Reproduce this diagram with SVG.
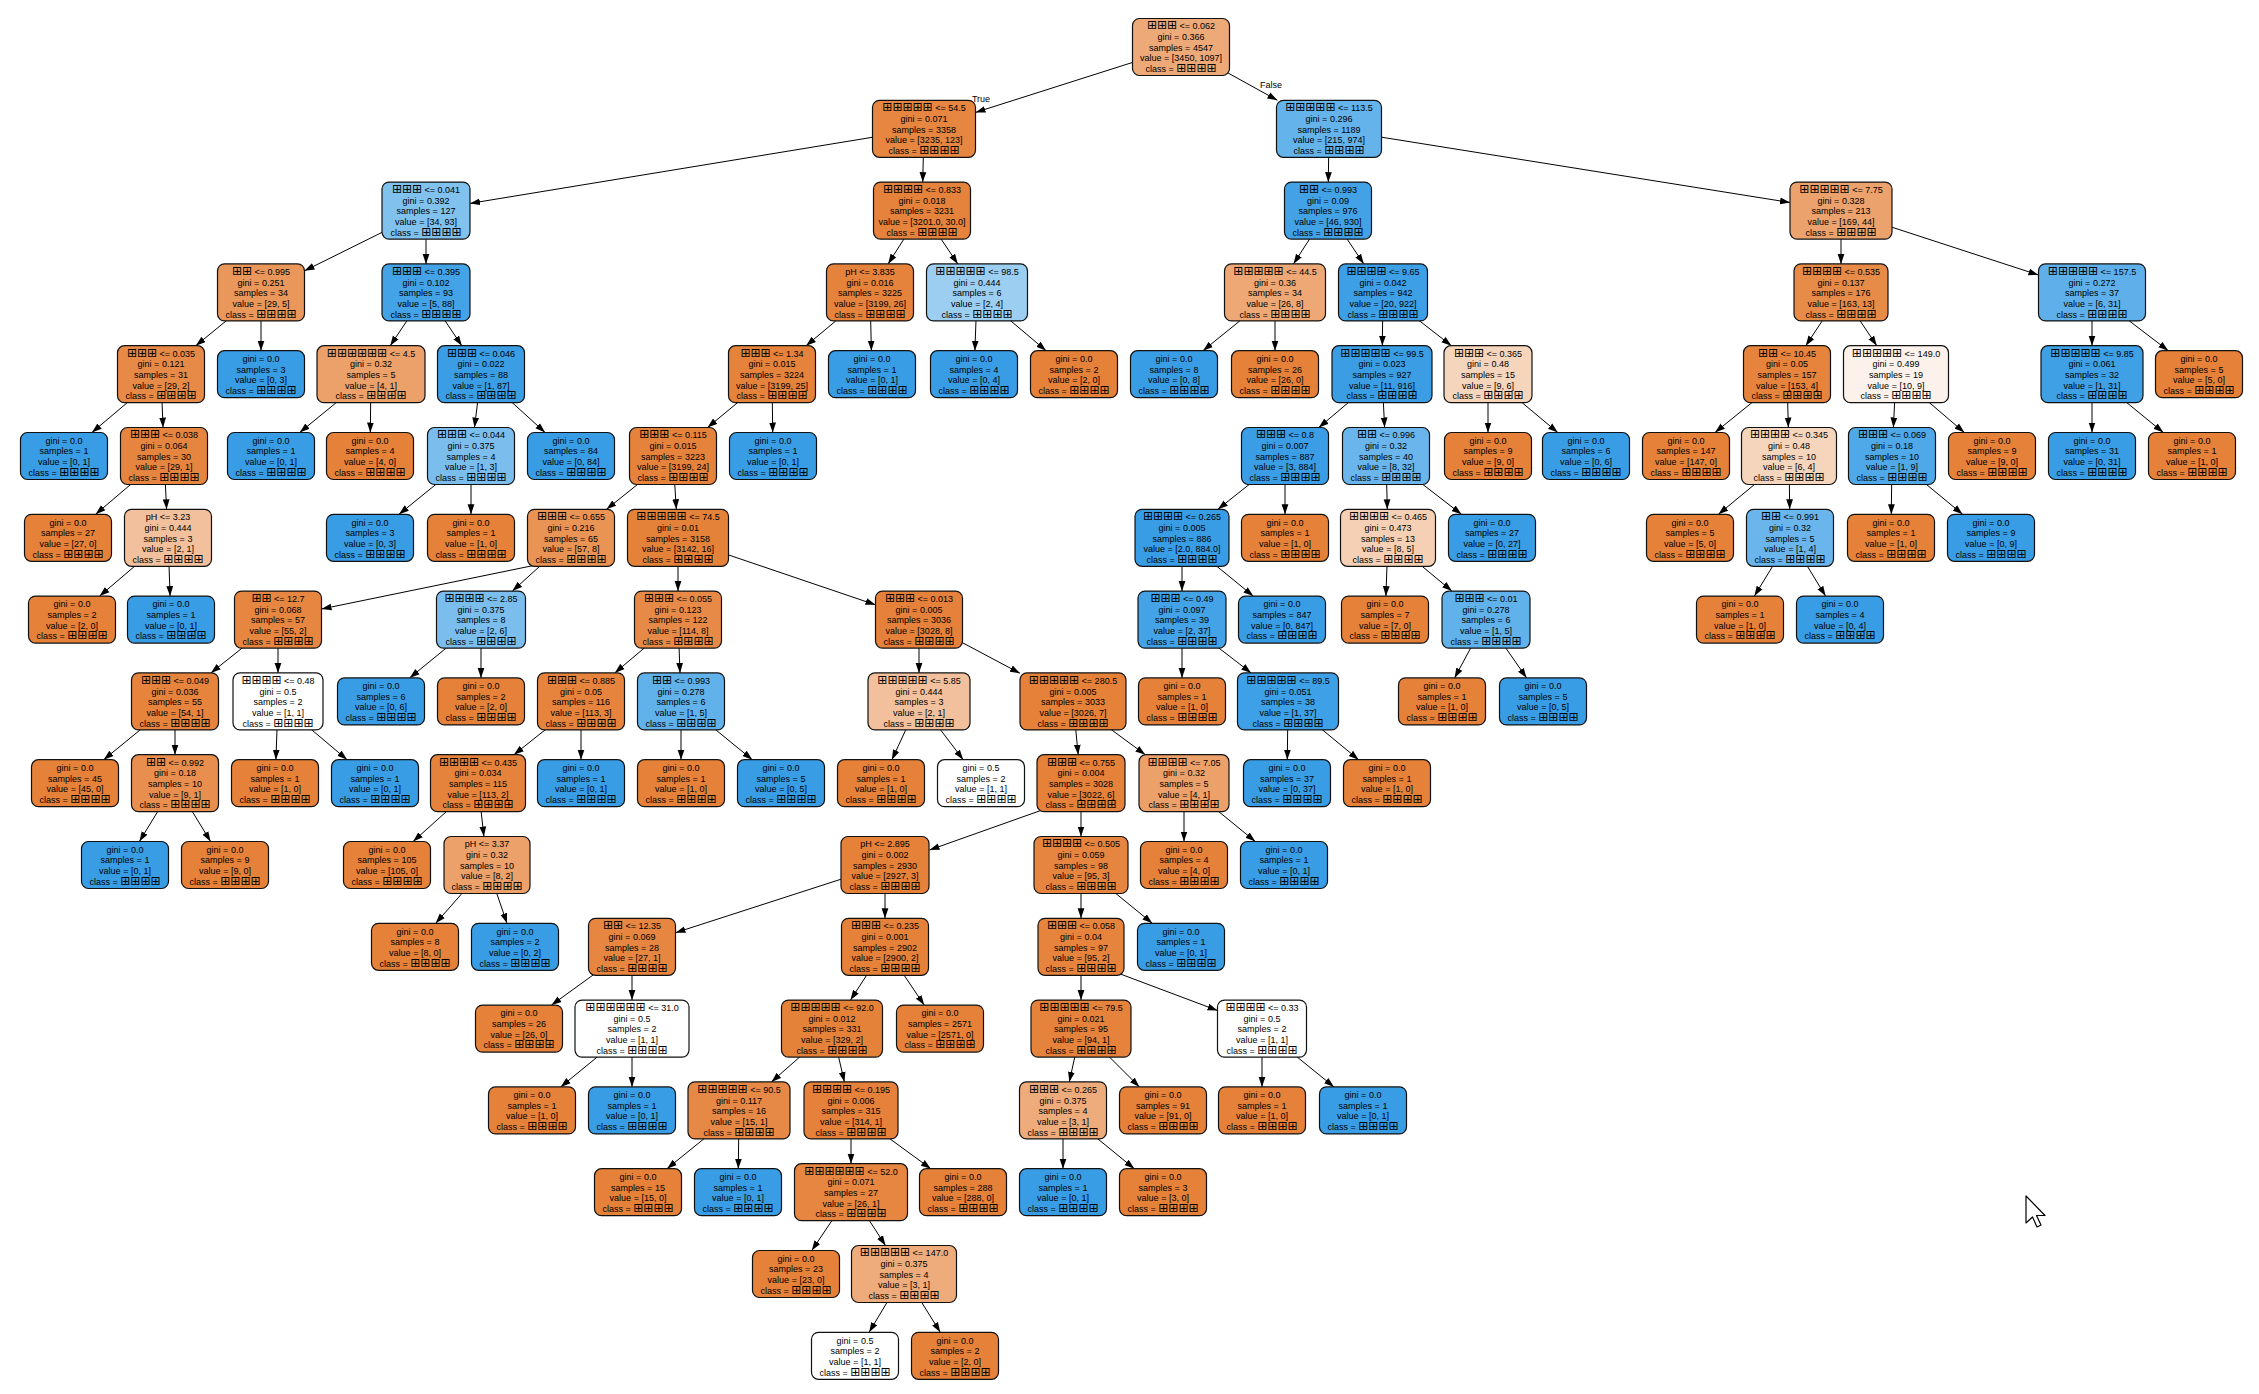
<svg xmlns="http://www.w3.org/2000/svg" width="2259" height="1394" viewBox="0 0 2259 1394">
<style>
text{font-family:"Liberation Sans",Arial,Helvetica,sans-serif;font-size:9px;fill:#000;text-anchor:middle}
.t{font-family:"DejaVu Sans",sans-serif;font-size:12px}
.nd rect{stroke:#111;stroke-width:1.2}
#edges path{fill:none;stroke:#000;stroke-width:1;marker-end:url(#ah)}
.o{fill:#e58139}.b{fill:#399de5}.w{fill:#ffffff}
</style>
<defs>
<marker id="ah" markerUnits="userSpaceOnUse" markerWidth="10" markerHeight="8" viewBox="0 0 10 8" refX="10" refY="4" orient="auto"><path d="M0,0.6 L10,4 L0,7.4 z" fill="#000"/></marker>
</defs>
<rect width="2259" height="1394" fill="#fff"/>
<g id="edges">
<path d="M1181,47 L975.5,112.4"/>
<path d="M1181,47 L1277.4,100.3"/>
<path d="M924,128.8 L470,203.4"/>
<path d="M924,128.8 L922.7,182.1"/>
<path d="M426,210.6 L304.5,270.8"/>
<path d="M426,210.6 L426,263.9"/>
<path d="M261,292.4 L195.8,345.7"/>
<path d="M261,292.4 L261,350.7"/>
<path d="M161,374.2 L91.9,432.5"/>
<path d="M161,374.2 L163,427.5"/>
<path d="M164,456 L95.6,514.3"/>
<path d="M164,456 L166.6,509.3"/>
<path d="M168,537.8 L99.6,596.1"/>
<path d="M168,537.8 L170.1,596.1"/>
<path d="M426,292.4 L390.2,345.7"/>
<path d="M426,292.4 L461.8,345.7"/>
<path d="M371,374.2 L299.7,432.5"/>
<path d="M371,374.2 L370.3,432.5"/>
<path d="M481,374.2 L474.5,427.5"/>
<path d="M481,374.2 L545.1,432.5"/>
<path d="M471,456 L399,514.3"/>
<path d="M471,456 L471,514.3"/>
<path d="M922,210.6 L888.1,263.9"/>
<path d="M922,210.6 L957.8,263.9"/>
<path d="M870,292.4 L806.1,345.7"/>
<path d="M870,292.4 L871.4,350.7"/>
<path d="M772,374.2 L707.5,427.5"/>
<path d="M772,374.2 L772.7,432.5"/>
<path d="M673,456 L606.5,509.3"/>
<path d="M673,456 L676.3,509.3"/>
<path d="M536,565 L321.5,609"/>
<path d="M571,537.8 L512.4,591.1"/>
<path d="M278,619.6 L210.9,672.9"/>
<path d="M278,619.6 L278,672.9"/>
<path d="M175,701.4 L103.7,759.7"/>
<path d="M175,701.4 L175,754.7"/>
<path d="M175,783.2 L139.4,841.5"/>
<path d="M175,783.2 L210.6,841.5"/>
<path d="M278,701.4 L275.9,759.7"/>
<path d="M278,701.4 L347.1,759.7"/>
<path d="M481,619.6 L409.7,677.9"/>
<path d="M481,619.6 L481,677.9"/>
<path d="M678,537.8 L678,591.1"/>
<path d="M678,537.8 L875.5,604.8"/>
<path d="M678,619.6 L614.8,672.9"/>
<path d="M678,619.6 L680,672.9"/>
<path d="M581,701.4 L513.9,754.7"/>
<path d="M581,701.4 L581,759.7"/>
<path d="M478,783.2 L413.1,841.5"/>
<path d="M478,783.2 L483.9,836.5"/>
<path d="M487,865 L435.7,923.3"/>
<path d="M487,865 L507,923.3"/>
<path d="M681,701.4 L681,759.7"/>
<path d="M681,701.4 L752.3,759.7"/>
<path d="M919,619.6 L919,672.9"/>
<path d="M919,619.6 L1020,673.3"/>
<path d="M919,701.4 L891.9,759.7"/>
<path d="M919,701.4 L963.2,759.7"/>
<path d="M1073,701.4 L1078.2,754.7"/>
<path d="M1073,701.4 L1145.3,754.7"/>
<path d="M1045,809 L929.5,850"/>
<path d="M1081,783.2 L1081,836.5"/>
<path d="M885,865 L675.5,932.7"/>
<path d="M885,865 L885,918.3"/>
<path d="M632,946.8 L551.5,1005.1"/>
<path d="M632,946.8 L632,1000.1"/>
<path d="M632,1028.6 L560.7,1086.9"/>
<path d="M632,1028.6 L632,1086.9"/>
<path d="M885,946.8 L850.5,1000.1"/>
<path d="M885,946.8 L924.2,1005.1"/>
<path d="M832,1028.6 L771.4,1081.9"/>
<path d="M832,1028.6 L844.4,1081.9"/>
<path d="M739,1110.4 L667,1168.7"/>
<path d="M739,1110.4 L738.3,1168.7"/>
<path d="M851,1110.4 L851,1163.7"/>
<path d="M851,1110.4 L930.8,1168.7"/>
<path d="M851,1192.2 L811.8,1250.5"/>
<path d="M851,1192.2 L885.5,1245.5"/>
<path d="M904,1274 L869.1,1332.3"/>
<path d="M904,1274 L940.3,1332.3"/>
<path d="M1081,865 L1081,918.3"/>
<path d="M1081,865 L1152.3,923.3"/>
<path d="M1081,946.8 L1081,1000.1"/>
<path d="M1115,972 L1217.5,1010.5"/>
<path d="M1081,1028.6 L1069.3,1081.9"/>
<path d="M1081,1028.6 L1139.4,1086.9"/>
<path d="M1063,1110.4 L1063,1168.7"/>
<path d="M1063,1110.4 L1134.3,1168.7"/>
<path d="M1262,1028.6 L1262,1086.9"/>
<path d="M1262,1028.6 L1334,1086.9"/>
<path d="M1184,783.2 L1184,841.5"/>
<path d="M1184,783.2 L1255.3,841.5"/>
<path d="M977,292.4 L974.9,350.7"/>
<path d="M977,292.4 L1046.1,350.7"/>
<path d="M1329,128.8 L1328.3,182.1"/>
<path d="M1329,128.8 L1790,202.5"/>
<path d="M1328,210.6 L1293.5,263.9"/>
<path d="M1328,210.6 L1363.8,263.9"/>
<path d="M1275,292.4 L1203,350.7"/>
<path d="M1275,292.4 L1275,350.7"/>
<path d="M1383,292.4 L1382.3,345.7"/>
<path d="M1383,292.4 L1451.4,345.7"/>
<path d="M1382,374.2 L1318.8,427.5"/>
<path d="M1382,374.2 L1384.6,427.5"/>
<path d="M1285,456 L1217.9,509.3"/>
<path d="M1285,456 L1285,514.3"/>
<path d="M1182,537.8 L1182,591.1"/>
<path d="M1182,537.8 L1253.3,596.1"/>
<path d="M1182,619.6 L1182,677.9"/>
<path d="M1182,619.6 L1251.1,672.9"/>
<path d="M1288,701.4 L1287.3,759.7"/>
<path d="M1288,701.4 L1358.6,759.7"/>
<path d="M1386,456 L1387.3,509.3"/>
<path d="M1386,456 L1461.5,514.3"/>
<path d="M1388,537.8 L1385.9,596.1"/>
<path d="M1388,537.8 L1451.9,591.1"/>
<path d="M1486,619.6 L1454.6,677.9"/>
<path d="M1486,619.6 L1526.6,677.9"/>
<path d="M1488,374.2 L1488,432.5"/>
<path d="M1488,374.2 L1557.8,432.5"/>
<path d="M1841,210.6 L1841,263.9"/>
<path d="M1841,210.6 L2038.5,275"/>
<path d="M1841,292.4 L1805.8,345.7"/>
<path d="M1841,292.4 L1876.8,345.7"/>
<path d="M1787,374.2 L1715,432.5"/>
<path d="M1787,374.2 L1788.3,427.5"/>
<path d="M1789,456 L1718.4,514.3"/>
<path d="M1789,456 L1789.7,509.3"/>
<path d="M1790,537.8 L1754.4,596.1"/>
<path d="M1790,537.8 L1825.6,596.1"/>
<path d="M1896,374.2 L1893.4,427.5"/>
<path d="M1896,374.2 L1964.4,432.5"/>
<path d="M1892,456 L1891.3,514.3"/>
<path d="M1892,456 L1962.6,514.3"/>
<path d="M2092,292.4 L2092,345.7"/>
<path d="M2092,292.4 L2168.3,350.7"/>
<path d="M2092,374.2 L2092,432.5"/>
<path d="M2092,374.2 L2163.3,432.5"/>
<text x="981" y="102">True</text>
<text x="1271" y="88">False</text>
</g>
<g id="nodes">
<g id="n0" class="nd" transform="translate(1181,47)"><rect x="-48.5" y="-28.5" width="97" height="57" rx="7" fill="#eda978"/><text y="-17.6"><tspan class="t">⊞⊞⊞</tspan> &lt;= 0.062<tspan x="0" dy="10.7">gini = 0.366</tspan><tspan x="0" dy="10.7">samples = 4547</tspan><tspan x="0" dy="10.7">value = [3450, 1097]</tspan><tspan x="0" dy="10.7">class = <tspan class="t">⊞⊞⊞⊞</tspan></tspan></text></g>
<g id="n1" class="nd" transform="translate(924,128.8)"><rect x="-51.5" y="-28.5" width="103" height="57" rx="7" fill="#e68641"/><text y="-17.6"><tspan class="t">⊞⊞⊞⊞⊞</tspan> &lt;= 54.5<tspan x="0" dy="10.7">gini = 0.071</tspan><tspan x="0" dy="10.7">samples = 3358</tspan><tspan x="0" dy="10.7">value = [3235, 123]</tspan><tspan x="0" dy="10.7">class = <tspan class="t">⊞⊞⊞⊞</tspan></tspan></text></g>
<g id="n94" class="nd" transform="translate(1329,128.8)"><rect x="-52.5" y="-28.5" width="105" height="57" rx="7" fill="#65b3eb"/><text y="-17.6"><tspan class="t">⊞⊞⊞⊞⊞</tspan> &lt;= 113.5<tspan x="0" dy="10.7">gini = 0.296</tspan><tspan x="0" dy="10.7">samples = 1189</tspan><tspan x="0" dy="10.7">value = [215, 974]</tspan><tspan x="0" dy="10.7">class = <tspan class="t">⊞⊞⊞⊞</tspan></tspan></text></g>
<g id="n2" class="nd" transform="translate(426,210.6)"><rect x="-44" y="-28.5" width="88" height="57" rx="7" fill="#81c1ee"/><text y="-17.6"><tspan class="t">⊞⊞⊞</tspan> &lt;= 0.041<tspan x="0" dy="10.7">gini = 0.392</tspan><tspan x="0" dy="10.7">samples = 127</tspan><tspan x="0" dy="10.7">value = [34, 93]</tspan><tspan x="0" dy="10.7">class = <tspan class="t">⊞⊞⊞⊞</tspan></tspan></text></g>
<g id="n21" class="nd" transform="translate(922,210.6)"><rect x="-48.5" y="-28.5" width="97" height="57" rx="7" fill="#e5823b"/><text y="-17.6"><tspan class="t">⊞⊞⊞⊞</tspan> &lt;= 0.833<tspan x="0" dy="10.7">gini = 0.018</tspan><tspan x="0" dy="10.7">samples = 3231</tspan><tspan x="0" dy="10.7">value = [3201.0, 30.0]</tspan><tspan x="0" dy="10.7">class = <tspan class="t">⊞⊞⊞⊞</tspan></tspan></text></g>
<g id="n95" class="nd" transform="translate(1328,210.6)"><rect x="-43.5" y="-28.5" width="87" height="57" rx="7" fill="#43a2e6"/><text y="-17.6"><tspan class="t">⊞⊞</tspan> &lt;= 0.993<tspan x="0" dy="10.7">gini = 0.09</tspan><tspan x="0" dy="10.7">samples = 976</tspan><tspan x="0" dy="10.7">value = [46, 930]</tspan><tspan x="0" dy="10.7">class = <tspan class="t">⊞⊞⊞⊞</tspan></tspan></text></g>
<g id="n120" class="nd" transform="translate(1841,210.6)"><rect x="-51" y="-28.5" width="102" height="57" rx="7" fill="#eca26c"/><text y="-17.6"><tspan class="t">⊞⊞⊞⊞⊞</tspan> &lt;= 7.75<tspan x="0" dy="10.7">gini = 0.328</tspan><tspan x="0" dy="10.7">samples = 213</tspan><tspan x="0" dy="10.7">value = [169, 44]</tspan><tspan x="0" dy="10.7">class = <tspan class="t">⊞⊞⊞⊞</tspan></tspan></text></g>
<g id="n3" class="nd" transform="translate(261,292.4)"><rect x="-43.5" y="-28.5" width="87" height="57" rx="7" fill="#e9975b"/><text y="-17.6"><tspan class="t">⊞⊞</tspan> &lt;= 0.995<tspan x="0" dy="10.7">gini = 0.251</tspan><tspan x="0" dy="10.7">samples = 34</tspan><tspan x="0" dy="10.7">value = [29, 5]</tspan><tspan x="0" dy="10.7">class = <tspan class="t">⊞⊞⊞⊞</tspan></tspan></text></g>
<g id="n12" class="nd" transform="translate(426,292.4)"><rect x="-44" y="-28.5" width="88" height="57" rx="7" fill="#44a2e6"/><text y="-17.6"><tspan class="t">⊞⊞⊞</tspan> &lt;= 0.395<tspan x="0" dy="10.7">gini = 0.102</tspan><tspan x="0" dy="10.7">samples = 93</tspan><tspan x="0" dy="10.7">value = [5, 88]</tspan><tspan x="0" dy="10.7">class = <tspan class="t">⊞⊞⊞⊞</tspan></tspan></text></g>
<g id="n22" class="nd" transform="translate(870,292.4)"><rect x="-43.5" y="-28.5" width="87" height="57" rx="7" fill="#e5823b"/><text y="-17.6">pH &lt;= 3.835<tspan x="0" dy="10.7">gini = 0.016</tspan><tspan x="0" dy="10.7">samples = 3225</tspan><tspan x="0" dy="10.7">value = [3199, 26]</tspan><tspan x="0" dy="10.7">class = <tspan class="t">⊞⊞⊞⊞</tspan></tspan></text></g>
<g id="n91" class="nd" transform="translate(977,292.4)"><rect x="-50.5" y="-28.5" width="101" height="57" rx="7" fill="#9ccef2"/><text y="-17.6"><tspan class="t">⊞⊞⊞⊞⊞</tspan> &lt;= 98.5<tspan x="0" dy="10.7">gini = 0.444</tspan><tspan x="0" dy="10.7">samples = 6</tspan><tspan x="0" dy="10.7">value = [2, 4]</tspan><tspan x="0" dy="10.7">class = <tspan class="t">⊞⊞⊞⊞</tspan></tspan></text></g>
<g id="n96" class="nd" transform="translate(1275,292.4)"><rect x="-50.5" y="-28.5" width="101" height="57" rx="7" fill="#eda876"/><text y="-17.6"><tspan class="t">⊞⊞⊞⊞⊞</tspan> &lt;= 44.5<tspan x="0" dy="10.7">gini = 0.36</tspan><tspan x="0" dy="10.7">samples = 34</tspan><tspan x="0" dy="10.7">value = [26, 8]</tspan><tspan x="0" dy="10.7">class = <tspan class="t">⊞⊞⊞⊞</tspan></tspan></text></g>
<g id="n99" class="nd" transform="translate(1383,292.4)"><rect x="-44.5" y="-28.5" width="89" height="57" rx="7" fill="#3d9fe6"/><text y="-17.6"><tspan class="t">⊞⊞⊞⊞</tspan> &lt;= 9.65<tspan x="0" dy="10.7">gini = 0.042</tspan><tspan x="0" dy="10.7">samples = 942</tspan><tspan x="0" dy="10.7">value = [20, 922]</tspan><tspan x="0" dy="10.7">class = <tspan class="t">⊞⊞⊞⊞</tspan></tspan></text></g>
<g id="n121" class="nd" transform="translate(1841,292.4)"><rect x="-47" y="-28.5" width="94" height="57" rx="7" fill="#e78b49"/><text y="-17.6"><tspan class="t">⊞⊞⊞⊞</tspan> &lt;= 0.535<tspan x="0" dy="10.7">gini = 0.137</tspan><tspan x="0" dy="10.7">samples = 176</tspan><tspan x="0" dy="10.7">value = [163, 13]</tspan><tspan x="0" dy="10.7">class = <tspan class="t">⊞⊞⊞⊞</tspan></tspan></text></g>
<g id="n134" class="nd" transform="translate(2092,292.4)"><rect x="-53.5" y="-28.5" width="107" height="57" rx="7" fill="#5fb0ea"/><text y="-17.6"><tspan class="t">⊞⊞⊞⊞⊞</tspan> &lt;= 157.5<tspan x="0" dy="10.7">gini = 0.272</tspan><tspan x="0" dy="10.7">samples = 37</tspan><tspan x="0" dy="10.7">value = [6, 31]</tspan><tspan x="0" dy="10.7">class = <tspan class="t">⊞⊞⊞⊞</tspan></tspan></text></g>
<g id="n4" class="nd" transform="translate(161,374.2)"><rect x="-43.5" y="-28.5" width="87" height="57" rx="7" fill="#e78a47"/><text y="-17.6"><tspan class="t">⊞⊞⊞</tspan> &lt;= 0.035<tspan x="0" dy="10.7">gini = 0.121</tspan><tspan x="0" dy="10.7">samples = 31</tspan><tspan x="0" dy="10.7">value = [29, 2]</tspan><tspan x="0" dy="10.7">class = <tspan class="t">⊞⊞⊞⊞</tspan></tspan></text></g>
<g id="n11" class="nd" transform="translate(261,374.2)"><rect class="b" x="-43.5" y="-23.5" width="87" height="47" rx="7"/><text y="-12.3">gini = 0.0<tspan x="0" dy="10.7">samples = 3</tspan><tspan x="0" dy="10.7">value = [0, 3]</tspan><tspan x="0" dy="10.7">class = <tspan class="t">⊞⊞⊞⊞</tspan></tspan></text></g>
<g id="n13" class="nd" transform="translate(371,374.2)"><rect x="-54" y="-28.5" width="108" height="57" rx="7" fill="#eca06a"/><text y="-17.6"><tspan class="t">⊞⊞⊞⊞⊞⊞</tspan> &lt;= 4.5<tspan x="0" dy="10.7">gini = 0.32</tspan><tspan x="0" dy="10.7">samples = 5</tspan><tspan x="0" dy="10.7">value = [4, 1]</tspan><tspan x="0" dy="10.7">class = <tspan class="t">⊞⊞⊞⊞</tspan></tspan></text></g>
<g id="n16" class="nd" transform="translate(481,374.2)"><rect x="-43.5" y="-28.5" width="87" height="57" rx="7" fill="#3b9ee5"/><text y="-17.6"><tspan class="t">⊞⊞⊞</tspan> &lt;= 0.046<tspan x="0" dy="10.7">gini = 0.022</tspan><tspan x="0" dy="10.7">samples = 88</tspan><tspan x="0" dy="10.7">value = [1, 87]</tspan><tspan x="0" dy="10.7">class = <tspan class="t">⊞⊞⊞⊞</tspan></tspan></text></g>
<g id="n23" class="nd" transform="translate(772,374.2)"><rect x="-43.5" y="-28.5" width="87" height="57" rx="7" fill="#e5823b"/><text y="-17.6"><tspan class="t">⊞⊞⊞</tspan> &lt;= 1.34<tspan x="0" dy="10.7">gini = 0.015</tspan><tspan x="0" dy="10.7">samples = 3224</tspan><tspan x="0" dy="10.7">value = [3199, 25]</tspan><tspan x="0" dy="10.7">class = <tspan class="t">⊞⊞⊞⊞</tspan></tspan></text></g>
<g id="n90" class="nd" transform="translate(872,374.2)"><rect class="b" x="-43.5" y="-23.5" width="87" height="47" rx="7"/><text y="-12.3">gini = 0.0<tspan x="0" dy="10.7">samples = 1</tspan><tspan x="0" dy="10.7">value = [0, 1]</tspan><tspan x="0" dy="10.7">class = <tspan class="t">⊞⊞⊞⊞</tspan></tspan></text></g>
<g id="n92" class="nd" transform="translate(974,374.2)"><rect class="b" x="-43.5" y="-23.5" width="87" height="47" rx="7"/><text y="-12.3">gini = 0.0<tspan x="0" dy="10.7">samples = 4</tspan><tspan x="0" dy="10.7">value = [0, 4]</tspan><tspan x="0" dy="10.7">class = <tspan class="t">⊞⊞⊞⊞</tspan></tspan></text></g>
<g id="n93" class="nd" transform="translate(1074,374.2)"><rect class="o" x="-43.5" y="-23.5" width="87" height="47" rx="7"/><text y="-12.3">gini = 0.0<tspan x="0" dy="10.7">samples = 2</tspan><tspan x="0" dy="10.7">value = [2, 0]</tspan><tspan x="0" dy="10.7">class = <tspan class="t">⊞⊞⊞⊞</tspan></tspan></text></g>
<g id="n97" class="nd" transform="translate(1174,374.2)"><rect class="b" x="-43.5" y="-23.5" width="87" height="47" rx="7"/><text y="-12.3">gini = 0.0<tspan x="0" dy="10.7">samples = 8</tspan><tspan x="0" dy="10.7">value = [0, 8]</tspan><tspan x="0" dy="10.7">class = <tspan class="t">⊞⊞⊞⊞</tspan></tspan></text></g>
<g id="n98" class="nd" transform="translate(1275,374.2)"><rect class="o" x="-43.5" y="-23.5" width="87" height="47" rx="7"/><text y="-12.3">gini = 0.0<tspan x="0" dy="10.7">samples = 26</tspan><tspan x="0" dy="10.7">value = [26, 0]</tspan><tspan x="0" dy="10.7">class = <tspan class="t">⊞⊞⊞⊞</tspan></tspan></text></g>
<g id="n100" class="nd" transform="translate(1382,374.2)"><rect x="-50" y="-28.5" width="100" height="57" rx="7" fill="#3b9ee5"/><text y="-17.6"><tspan class="t">⊞⊞⊞⊞⊞</tspan> &lt;= 99.5<tspan x="0" dy="10.7">gini = 0.023</tspan><tspan x="0" dy="10.7">samples = 927</tspan><tspan x="0" dy="10.7">value = [11, 916]</tspan><tspan x="0" dy="10.7">class = <tspan class="t">⊞⊞⊞⊞</tspan></tspan></text></g>
<g id="n117" class="nd" transform="translate(1488,374.2)"><rect x="-44" y="-28.5" width="88" height="57" rx="7" fill="#f6d5bd"/><text y="-17.6"><tspan class="t">⊞⊞⊞</tspan> &lt;= 0.365<tspan x="0" dy="10.7">gini = 0.48</tspan><tspan x="0" dy="10.7">samples = 15</tspan><tspan x="0" dy="10.7">value = [9, 6]</tspan><tspan x="0" dy="10.7">class = <tspan class="t">⊞⊞⊞⊞</tspan></tspan></text></g>
<g id="n122" class="nd" transform="translate(1787,374.2)"><rect x="-43.5" y="-28.5" width="87" height="57" rx="7" fill="#e6843e"/><text y="-17.6"><tspan class="t">⊞⊞</tspan> &lt;= 10.45<tspan x="0" dy="10.7">gini = 0.05</tspan><tspan x="0" dy="10.7">samples = 157</tspan><tspan x="0" dy="10.7">value = [153, 4]</tspan><tspan x="0" dy="10.7">class = <tspan class="t">⊞⊞⊞⊞</tspan></tspan></text></g>
<g id="n129" class="nd" transform="translate(1896,374.2)"><rect x="-52.5" y="-28.5" width="105" height="57" rx="7" fill="#fcf2eb"/><text y="-17.6"><tspan class="t">⊞⊞⊞⊞⊞</tspan> &lt;= 149.0<tspan x="0" dy="10.7">gini = 0.499</tspan><tspan x="0" dy="10.7">samples = 19</tspan><tspan x="0" dy="10.7">value = [10, 9]</tspan><tspan x="0" dy="10.7">class = <tspan class="t">⊞⊞⊞⊞</tspan></tspan></text></g>
<g id="n135" class="nd" transform="translate(2092,374.2)"><rect x="-51" y="-28.5" width="102" height="57" rx="7" fill="#3fa0e6"/><text y="-17.6"><tspan class="t">⊞⊞⊞⊞⊞</tspan> &lt;= 9.85<tspan x="0" dy="10.7">gini = 0.061</tspan><tspan x="0" dy="10.7">samples = 32</tspan><tspan x="0" dy="10.7">value = [1, 31]</tspan><tspan x="0" dy="10.7">class = <tspan class="t">⊞⊞⊞⊞</tspan></tspan></text></g>
<g id="n138" class="nd" transform="translate(2199,374.2)"><rect class="o" x="-43.5" y="-23.5" width="87" height="47" rx="7"/><text y="-12.3">gini = 0.0<tspan x="0" dy="10.7">samples = 5</tspan><tspan x="0" dy="10.7">value = [5, 0]</tspan><tspan x="0" dy="10.7">class = <tspan class="t">⊞⊞⊞⊞</tspan></tspan></text></g>
<g id="n5" class="nd" transform="translate(64,456)"><rect class="b" x="-43.5" y="-23.5" width="87" height="47" rx="7"/><text y="-12.3">gini = 0.0<tspan x="0" dy="10.7">samples = 1</tspan><tspan x="0" dy="10.7">value = [0, 1]</tspan><tspan x="0" dy="10.7">class = <tspan class="t">⊞⊞⊞⊞</tspan></tspan></text></g>
<g id="n6" class="nd" transform="translate(164,456)"><rect x="-43.5" y="-28.5" width="87" height="57" rx="7" fill="#e68540"/><text y="-17.6"><tspan class="t">⊞⊞⊞</tspan> &lt;= 0.038<tspan x="0" dy="10.7">gini = 0.064</tspan><tspan x="0" dy="10.7">samples = 30</tspan><tspan x="0" dy="10.7">value = [29, 1]</tspan><tspan x="0" dy="10.7">class = <tspan class="t">⊞⊞⊞⊞</tspan></tspan></text></g>
<g id="n14" class="nd" transform="translate(271,456)"><rect class="b" x="-43.5" y="-23.5" width="87" height="47" rx="7"/><text y="-12.3">gini = 0.0<tspan x="0" dy="10.7">samples = 1</tspan><tspan x="0" dy="10.7">value = [0, 1]</tspan><tspan x="0" dy="10.7">class = <tspan class="t">⊞⊞⊞⊞</tspan></tspan></text></g>
<g id="n15" class="nd" transform="translate(370,456)"><rect class="o" x="-43.5" y="-23.5" width="87" height="47" rx="7"/><text y="-12.3">gini = 0.0<tspan x="0" dy="10.7">samples = 4</tspan><tspan x="0" dy="10.7">value = [4, 0]</tspan><tspan x="0" dy="10.7">class = <tspan class="t">⊞⊞⊞⊞</tspan></tspan></text></g>
<g id="n17" class="nd" transform="translate(471,456)"><rect x="-43.5" y="-28.5" width="87" height="57" rx="7" fill="#7bbeee"/><text y="-17.6"><tspan class="t">⊞⊞⊞</tspan> &lt;= 0.044<tspan x="0" dy="10.7">gini = 0.375</tspan><tspan x="0" dy="10.7">samples = 4</tspan><tspan x="0" dy="10.7">value = [1, 3]</tspan><tspan x="0" dy="10.7">class = <tspan class="t">⊞⊞⊞⊞</tspan></tspan></text></g>
<g id="n20" class="nd" transform="translate(571,456)"><rect class="b" x="-43.5" y="-23.5" width="87" height="47" rx="7"/><text y="-12.3">gini = 0.0<tspan x="0" dy="10.7">samples = 84</tspan><tspan x="0" dy="10.7">value = [0, 84]</tspan><tspan x="0" dy="10.7">class = <tspan class="t">⊞⊞⊞⊞</tspan></tspan></text></g>
<g id="n24" class="nd" transform="translate(673,456)"><rect x="-43.5" y="-28.5" width="87" height="57" rx="7" fill="#e5823b"/><text y="-17.6"><tspan class="t">⊞⊞⊞</tspan> &lt;= 0.115<tspan x="0" dy="10.7">gini = 0.015</tspan><tspan x="0" dy="10.7">samples = 3223</tspan><tspan x="0" dy="10.7">value = [3199, 24]</tspan><tspan x="0" dy="10.7">class = <tspan class="t">⊞⊞⊞⊞</tspan></tspan></text></g>
<g id="n89" class="nd" transform="translate(773,456)"><rect class="b" x="-43.5" y="-23.5" width="87" height="47" rx="7"/><text y="-12.3">gini = 0.0<tspan x="0" dy="10.7">samples = 1</tspan><tspan x="0" dy="10.7">value = [0, 1]</tspan><tspan x="0" dy="10.7">class = <tspan class="t">⊞⊞⊞⊞</tspan></tspan></text></g>
<g id="n101" class="nd" transform="translate(1285,456)"><rect x="-43.5" y="-28.5" width="87" height="57" rx="7" fill="#3a9de5"/><text y="-17.6"><tspan class="t">⊞⊞⊞</tspan> &lt;= 0.8<tspan x="0" dy="10.7">gini = 0.007</tspan><tspan x="0" dy="10.7">samples = 887</tspan><tspan x="0" dy="10.7">value = [3, 884]</tspan><tspan x="0" dy="10.7">class = <tspan class="t">⊞⊞⊞⊞</tspan></tspan></text></g>
<g id="n110" class="nd" transform="translate(1386,456)"><rect x="-43.5" y="-28.5" width="87" height="57" rx="7" fill="#6ab6ec"/><text y="-17.6"><tspan class="t">⊞⊞</tspan> &lt;= 0.996<tspan x="0" dy="10.7">gini = 0.32</tspan><tspan x="0" dy="10.7">samples = 40</tspan><tspan x="0" dy="10.7">value = [8, 32]</tspan><tspan x="0" dy="10.7">class = <tspan class="t">⊞⊞⊞⊞</tspan></tspan></text></g>
<g id="n118" class="nd" transform="translate(1488,456)"><rect class="o" x="-43.5" y="-23.5" width="87" height="47" rx="7"/><text y="-12.3">gini = 0.0<tspan x="0" dy="10.7">samples = 9</tspan><tspan x="0" dy="10.7">value = [9, 0]</tspan><tspan x="0" dy="10.7">class = <tspan class="t">⊞⊞⊞⊞</tspan></tspan></text></g>
<g id="n119" class="nd" transform="translate(1586,456)"><rect class="b" x="-43.5" y="-23.5" width="87" height="47" rx="7"/><text y="-12.3">gini = 0.0<tspan x="0" dy="10.7">samples = 6</tspan><tspan x="0" dy="10.7">value = [0, 6]</tspan><tspan x="0" dy="10.7">class = <tspan class="t">⊞⊞⊞⊞</tspan></tspan></text></g>
<g id="n123" class="nd" transform="translate(1686,456)"><rect class="o" x="-43.5" y="-23.5" width="87" height="47" rx="7"/><text y="-12.3">gini = 0.0<tspan x="0" dy="10.7">samples = 147</tspan><tspan x="0" dy="10.7">value = [147, 0]</tspan><tspan x="0" dy="10.7">class = <tspan class="t">⊞⊞⊞⊞</tspan></tspan></text></g>
<g id="n124" class="nd" transform="translate(1789,456)"><rect x="-47.5" y="-28.5" width="95" height="57" rx="7" fill="#f6d5bd"/><text y="-17.6"><tspan class="t">⊞⊞⊞⊞</tspan> &lt;= 0.345<tspan x="0" dy="10.7">gini = 0.48</tspan><tspan x="0" dy="10.7">samples = 10</tspan><tspan x="0" dy="10.7">value = [6, 4]</tspan><tspan x="0" dy="10.7">class = <tspan class="t">⊞⊞⊞⊞</tspan></tspan></text></g>
<g id="n130" class="nd" transform="translate(1892,456)"><rect x="-43.5" y="-28.5" width="87" height="57" rx="7" fill="#4fa8e8"/><text y="-17.6"><tspan class="t">⊞⊞⊞</tspan> &lt;= 0.069<tspan x="0" dy="10.7">gini = 0.18</tspan><tspan x="0" dy="10.7">samples = 10</tspan><tspan x="0" dy="10.7">value = [1, 9]</tspan><tspan x="0" dy="10.7">class = <tspan class="t">⊞⊞⊞⊞</tspan></tspan></text></g>
<g id="n133" class="nd" transform="translate(1992,456)"><rect class="o" x="-43.5" y="-23.5" width="87" height="47" rx="7"/><text y="-12.3">gini = 0.0<tspan x="0" dy="10.7">samples = 9</tspan><tspan x="0" dy="10.7">value = [9, 0]</tspan><tspan x="0" dy="10.7">class = <tspan class="t">⊞⊞⊞⊞</tspan></tspan></text></g>
<g id="n136" class="nd" transform="translate(2092,456)"><rect class="b" x="-43.5" y="-23.5" width="87" height="47" rx="7"/><text y="-12.3">gini = 0.0<tspan x="0" dy="10.7">samples = 31</tspan><tspan x="0" dy="10.7">value = [0, 31]</tspan><tspan x="0" dy="10.7">class = <tspan class="t">⊞⊞⊞⊞</tspan></tspan></text></g>
<g id="n137" class="nd" transform="translate(2192,456)"><rect class="o" x="-43.5" y="-23.5" width="87" height="47" rx="7"/><text y="-12.3">gini = 0.0<tspan x="0" dy="10.7">samples = 1</tspan><tspan x="0" dy="10.7">value = [1, 0]</tspan><tspan x="0" dy="10.7">class = <tspan class="t">⊞⊞⊞⊞</tspan></tspan></text></g>
<g id="n7" class="nd" transform="translate(68,537.8)"><rect class="o" x="-43.5" y="-23.5" width="87" height="47" rx="7"/><text y="-12.3">gini = 0.0<tspan x="0" dy="10.7">samples = 27</tspan><tspan x="0" dy="10.7">value = [27, 0]</tspan><tspan x="0" dy="10.7">class = <tspan class="t">⊞⊞⊞⊞</tspan></tspan></text></g>
<g id="n8" class="nd" transform="translate(168,537.8)"><rect x="-43.5" y="-28.5" width="87" height="57" rx="7" fill="#f2c09c"/><text y="-17.6">pH &lt;= 3.23<tspan x="0" dy="10.7">gini = 0.444</tspan><tspan x="0" dy="10.7">samples = 3</tspan><tspan x="0" dy="10.7">value = [2, 1]</tspan><tspan x="0" dy="10.7">class = <tspan class="t">⊞⊞⊞⊞</tspan></tspan></text></g>
<g id="n18" class="nd" transform="translate(370,537.8)"><rect class="b" x="-43.5" y="-23.5" width="87" height="47" rx="7"/><text y="-12.3">gini = 0.0<tspan x="0" dy="10.7">samples = 3</tspan><tspan x="0" dy="10.7">value = [0, 3]</tspan><tspan x="0" dy="10.7">class = <tspan class="t">⊞⊞⊞⊞</tspan></tspan></text></g>
<g id="n19" class="nd" transform="translate(471,537.8)"><rect class="o" x="-43.5" y="-23.5" width="87" height="47" rx="7"/><text y="-12.3">gini = 0.0<tspan x="0" dy="10.7">samples = 1</tspan><tspan x="0" dy="10.7">value = [1, 0]</tspan><tspan x="0" dy="10.7">class = <tspan class="t">⊞⊞⊞⊞</tspan></tspan></text></g>
<g id="n25" class="nd" transform="translate(571,537.8)"><rect x="-43.5" y="-28.5" width="87" height="57" rx="7" fill="#e99355"/><text y="-17.6"><tspan class="t">⊞⊞⊞</tspan> &lt;= 0.655<tspan x="0" dy="10.7">gini = 0.216</tspan><tspan x="0" dy="10.7">samples = 65</tspan><tspan x="0" dy="10.7">value = [57, 8]</tspan><tspan x="0" dy="10.7">class = <tspan class="t">⊞⊞⊞⊞</tspan></tspan></text></g>
<g id="n38" class="nd" transform="translate(678,537.8)"><rect x="-50.5" y="-28.5" width="101" height="57" rx="7" fill="#e5823a"/><text y="-17.6"><tspan class="t">⊞⊞⊞⊞⊞</tspan> &lt;= 74.5<tspan x="0" dy="10.7">gini = 0.01</tspan><tspan x="0" dy="10.7">samples = 3158</tspan><tspan x="0" dy="10.7">value = [3142, 16]</tspan><tspan x="0" dy="10.7">class = <tspan class="t">⊞⊞⊞⊞</tspan></tspan></text></g>
<g id="n102" class="nd" transform="translate(1182,537.8)"><rect x="-47" y="-28.5" width="94" height="57" rx="7" fill="#399de5"/><text y="-17.6"><tspan class="t">⊞⊞⊞⊞</tspan> &lt;= 0.265<tspan x="0" dy="10.7">gini = 0.005</tspan><tspan x="0" dy="10.7">samples = 886</tspan><tspan x="0" dy="10.7">value = [2.0, 884.0]</tspan><tspan x="0" dy="10.7">class = <tspan class="t">⊞⊞⊞⊞</tspan></tspan></text></g>
<g id="n109" class="nd" transform="translate(1285,537.8)"><rect class="o" x="-43.5" y="-23.5" width="87" height="47" rx="7"/><text y="-12.3">gini = 0.0<tspan x="0" dy="10.7">samples = 1</tspan><tspan x="0" dy="10.7">value = [1, 0]</tspan><tspan x="0" dy="10.7">class = <tspan class="t">⊞⊞⊞⊞</tspan></tspan></text></g>
<g id="n111" class="nd" transform="translate(1388,537.8)"><rect x="-47.5" y="-28.5" width="95" height="57" rx="7" fill="#f5d0b5"/><text y="-17.6"><tspan class="t">⊞⊞⊞⊞</tspan> &lt;= 0.465<tspan x="0" dy="10.7">gini = 0.473</tspan><tspan x="0" dy="10.7">samples = 13</tspan><tspan x="0" dy="10.7">value = [8, 5]</tspan><tspan x="0" dy="10.7">class = <tspan class="t">⊞⊞⊞⊞</tspan></tspan></text></g>
<g id="n116" class="nd" transform="translate(1492,537.8)"><rect class="b" x="-43.5" y="-23.5" width="87" height="47" rx="7"/><text y="-12.3">gini = 0.0<tspan x="0" dy="10.7">samples = 27</tspan><tspan x="0" dy="10.7">value = [0, 27]</tspan><tspan x="0" dy="10.7">class = <tspan class="t">⊞⊞⊞⊞</tspan></tspan></text></g>
<g id="n125" class="nd" transform="translate(1690,537.8)"><rect class="o" x="-43.5" y="-23.5" width="87" height="47" rx="7"/><text y="-12.3">gini = 0.0<tspan x="0" dy="10.7">samples = 5</tspan><tspan x="0" dy="10.7">value = [5, 0]</tspan><tspan x="0" dy="10.7">class = <tspan class="t">⊞⊞⊞⊞</tspan></tspan></text></g>
<g id="n126" class="nd" transform="translate(1790,537.8)"><rect x="-43.5" y="-28.5" width="87" height="57" rx="7" fill="#6ab6ec"/><text y="-17.6"><tspan class="t">⊞⊞</tspan> &lt;= 0.991<tspan x="0" dy="10.7">gini = 0.32</tspan><tspan x="0" dy="10.7">samples = 5</tspan><tspan x="0" dy="10.7">value = [1, 4]</tspan><tspan x="0" dy="10.7">class = <tspan class="t">⊞⊞⊞⊞</tspan></tspan></text></g>
<g id="n131" class="nd" transform="translate(1891,537.8)"><rect class="o" x="-43.5" y="-23.5" width="87" height="47" rx="7"/><text y="-12.3">gini = 0.0<tspan x="0" dy="10.7">samples = 1</tspan><tspan x="0" dy="10.7">value = [1, 0]</tspan><tspan x="0" dy="10.7">class = <tspan class="t">⊞⊞⊞⊞</tspan></tspan></text></g>
<g id="n132" class="nd" transform="translate(1991,537.8)"><rect class="b" x="-43.5" y="-23.5" width="87" height="47" rx="7"/><text y="-12.3">gini = 0.0<tspan x="0" dy="10.7">samples = 9</tspan><tspan x="0" dy="10.7">value = [0, 9]</tspan><tspan x="0" dy="10.7">class = <tspan class="t">⊞⊞⊞⊞</tspan></tspan></text></g>
<g id="n9" class="nd" transform="translate(72,619.6)"><rect class="o" x="-43.5" y="-23.5" width="87" height="47" rx="7"/><text y="-12.3">gini = 0.0<tspan x="0" dy="10.7">samples = 2</tspan><tspan x="0" dy="10.7">value = [2, 0]</tspan><tspan x="0" dy="10.7">class = <tspan class="t">⊞⊞⊞⊞</tspan></tspan></text></g>
<g id="n10" class="nd" transform="translate(171,619.6)"><rect class="b" x="-43.5" y="-23.5" width="87" height="47" rx="7"/><text y="-12.3">gini = 0.0<tspan x="0" dy="10.7">samples = 1</tspan><tspan x="0" dy="10.7">value = [0, 1]</tspan><tspan x="0" dy="10.7">class = <tspan class="t">⊞⊞⊞⊞</tspan></tspan></text></g>
<g id="n26" class="nd" transform="translate(278,619.6)"><rect x="-43.5" y="-28.5" width="87" height="57" rx="7" fill="#e68640"/><text y="-17.6"><tspan class="t">⊞⊞</tspan> &lt;= 12.7<tspan x="0" dy="10.7">gini = 0.068</tspan><tspan x="0" dy="10.7">samples = 57</tspan><tspan x="0" dy="10.7">value = [55, 2]</tspan><tspan x="0" dy="10.7">class = <tspan class="t">⊞⊞⊞⊞</tspan></tspan></text></g>
<g id="n35" class="nd" transform="translate(481,619.6)"><rect x="-44.5" y="-28.5" width="89" height="57" rx="7" fill="#7bbeee"/><text y="-17.6"><tspan class="t">⊞⊞⊞⊞</tspan> &lt;= 2.85<tspan x="0" dy="10.7">gini = 0.375</tspan><tspan x="0" dy="10.7">samples = 8</tspan><tspan x="0" dy="10.7">value = [2, 6]</tspan><tspan x="0" dy="10.7">class = <tspan class="t">⊞⊞⊞⊞</tspan></tspan></text></g>
<g id="n39" class="nd" transform="translate(678,619.6)"><rect x="-43.5" y="-28.5" width="87" height="57" rx="7" fill="#e78a47"/><text y="-17.6"><tspan class="t">⊞⊞⊞</tspan> &lt;= 0.055<tspan x="0" dy="10.7">gini = 0.123</tspan><tspan x="0" dy="10.7">samples = 122</tspan><tspan x="0" dy="10.7">value = [114, 8]</tspan><tspan x="0" dy="10.7">class = <tspan class="t">⊞⊞⊞⊞</tspan></tspan></text></g>
<g id="n50" class="nd" transform="translate(919,619.6)"><rect x="-43.5" y="-28.5" width="87" height="57" rx="7" fill="#e5813a"/><text y="-17.6"><tspan class="t">⊞⊞⊞</tspan> &lt;= 0.013<tspan x="0" dy="10.7">gini = 0.005</tspan><tspan x="0" dy="10.7">samples = 3036</tspan><tspan x="0" dy="10.7">value = [3028, 8]</tspan><tspan x="0" dy="10.7">class = <tspan class="t">⊞⊞⊞⊞</tspan></tspan></text></g>
<g id="n103" class="nd" transform="translate(1182,619.6)"><rect x="-44" y="-28.5" width="88" height="57" rx="7" fill="#44a2e6"/><text y="-17.6"><tspan class="t">⊞⊞⊞</tspan> &lt;= 0.49<tspan x="0" dy="10.7">gini = 0.097</tspan><tspan x="0" dy="10.7">samples = 39</tspan><tspan x="0" dy="10.7">value = [2, 37]</tspan><tspan x="0" dy="10.7">class = <tspan class="t">⊞⊞⊞⊞</tspan></tspan></text></g>
<g id="n108" class="nd" transform="translate(1282,619.6)"><rect class="b" x="-43.5" y="-23.5" width="87" height="47" rx="7"/><text y="-12.3">gini = 0.0<tspan x="0" dy="10.7">samples = 847</tspan><tspan x="0" dy="10.7">value = [0, 847]</tspan><tspan x="0" dy="10.7">class = <tspan class="t">⊞⊞⊞⊞</tspan></tspan></text></g>
<g id="n112" class="nd" transform="translate(1385,619.6)"><rect class="o" x="-43.5" y="-23.5" width="87" height="47" rx="7"/><text y="-12.3">gini = 0.0<tspan x="0" dy="10.7">samples = 7</tspan><tspan x="0" dy="10.7">value = [7, 0]</tspan><tspan x="0" dy="10.7">class = <tspan class="t">⊞⊞⊞⊞</tspan></tspan></text></g>
<g id="n113" class="nd" transform="translate(1486,619.6)"><rect x="-44" y="-28.5" width="88" height="57" rx="7" fill="#61b1ea"/><text y="-17.6"><tspan class="t">⊞⊞⊞</tspan> &lt;= 0.01<tspan x="0" dy="10.7">gini = 0.278</tspan><tspan x="0" dy="10.7">samples = 6</tspan><tspan x="0" dy="10.7">value = [1, 5]</tspan><tspan x="0" dy="10.7">class = <tspan class="t">⊞⊞⊞⊞</tspan></tspan></text></g>
<g id="n127" class="nd" transform="translate(1740,619.6)"><rect class="o" x="-43.5" y="-23.5" width="87" height="47" rx="7"/><text y="-12.3">gini = 0.0<tspan x="0" dy="10.7">samples = 1</tspan><tspan x="0" dy="10.7">value = [1, 0]</tspan><tspan x="0" dy="10.7">class = <tspan class="t">⊞⊞⊞⊞</tspan></tspan></text></g>
<g id="n128" class="nd" transform="translate(1840,619.6)"><rect class="b" x="-43.5" y="-23.5" width="87" height="47" rx="7"/><text y="-12.3">gini = 0.0<tspan x="0" dy="10.7">samples = 4</tspan><tspan x="0" dy="10.7">value = [0, 4]</tspan><tspan x="0" dy="10.7">class = <tspan class="t">⊞⊞⊞⊞</tspan></tspan></text></g>
<g id="n27" class="nd" transform="translate(175,701.4)"><rect x="-43.5" y="-28.5" width="87" height="57" rx="7" fill="#e6833d"/><text y="-17.6"><tspan class="t">⊞⊞⊞</tspan> &lt;= 0.049<tspan x="0" dy="10.7">gini = 0.036</tspan><tspan x="0" dy="10.7">samples = 55</tspan><tspan x="0" dy="10.7">value = [54, 1]</tspan><tspan x="0" dy="10.7">class = <tspan class="t">⊞⊞⊞⊞</tspan></tspan></text></g>
<g id="n32" class="nd" transform="translate(278,701.4)"><rect x="-45" y="-28.5" width="90" height="57" rx="7" fill="#ffffff"/><text y="-17.6"><tspan class="t">⊞⊞⊞⊞</tspan> &lt;= 0.48<tspan x="0" dy="10.7">gini = 0.5</tspan><tspan x="0" dy="10.7">samples = 2</tspan><tspan x="0" dy="10.7">value = [1, 1]</tspan><tspan x="0" dy="10.7">class = <tspan class="t">⊞⊞⊞⊞</tspan></tspan></text></g>
<g id="n36" class="nd" transform="translate(381,701.4)"><rect class="b" x="-43.5" y="-23.5" width="87" height="47" rx="7"/><text y="-12.3">gini = 0.0<tspan x="0" dy="10.7">samples = 6</tspan><tspan x="0" dy="10.7">value = [0, 6]</tspan><tspan x="0" dy="10.7">class = <tspan class="t">⊞⊞⊞⊞</tspan></tspan></text></g>
<g id="n37" class="nd" transform="translate(481,701.4)"><rect class="o" x="-43.5" y="-23.5" width="87" height="47" rx="7"/><text y="-12.3">gini = 0.0<tspan x="0" dy="10.7">samples = 2</tspan><tspan x="0" dy="10.7">value = [2, 0]</tspan><tspan x="0" dy="10.7">class = <tspan class="t">⊞⊞⊞⊞</tspan></tspan></text></g>
<g id="n40" class="nd" transform="translate(581,701.4)"><rect x="-43.5" y="-28.5" width="87" height="57" rx="7" fill="#e6843e"/><text y="-17.6"><tspan class="t">⊞⊞⊞</tspan> &lt;= 0.885<tspan x="0" dy="10.7">gini = 0.05</tspan><tspan x="0" dy="10.7">samples = 116</tspan><tspan x="0" dy="10.7">value = [113, 3]</tspan><tspan x="0" dy="10.7">class = <tspan class="t">⊞⊞⊞⊞</tspan></tspan></text></g>
<g id="n47" class="nd" transform="translate(681,701.4)"><rect x="-43.5" y="-28.5" width="87" height="57" rx="7" fill="#61b1ea"/><text y="-17.6"><tspan class="t">⊞⊞</tspan> &lt;= 0.993<tspan x="0" dy="10.7">gini = 0.278</tspan><tspan x="0" dy="10.7">samples = 6</tspan><tspan x="0" dy="10.7">value = [1, 5]</tspan><tspan x="0" dy="10.7">class = <tspan class="t">⊞⊞⊞⊞</tspan></tspan></text></g>
<g id="n51" class="nd" transform="translate(919,701.4)"><rect x="-51" y="-28.5" width="102" height="57" rx="7" fill="#f2c09c"/><text y="-17.6"><tspan class="t">⊞⊞⊞⊞⊞</tspan> &lt;= 5.85<tspan x="0" dy="10.7">gini = 0.444</tspan><tspan x="0" dy="10.7">samples = 3</tspan><tspan x="0" dy="10.7">value = [2, 1]</tspan><tspan x="0" dy="10.7">class = <tspan class="t">⊞⊞⊞⊞</tspan></tspan></text></g>
<g id="n54" class="nd" transform="translate(1073,701.4)"><rect x="-53" y="-28.5" width="106" height="57" rx="7" fill="#e58139"/><text y="-17.6"><tspan class="t">⊞⊞⊞⊞⊞</tspan> &lt;= 280.5<tspan x="0" dy="10.7">gini = 0.005</tspan><tspan x="0" dy="10.7">samples = 3033</tspan><tspan x="0" dy="10.7">value = [3026, 7]</tspan><tspan x="0" dy="10.7">class = <tspan class="t">⊞⊞⊞⊞</tspan></tspan></text></g>
<g id="n104" class="nd" transform="translate(1182,701.4)"><rect class="o" x="-43.5" y="-23.5" width="87" height="47" rx="7"/><text y="-12.3">gini = 0.0<tspan x="0" dy="10.7">samples = 1</tspan><tspan x="0" dy="10.7">value = [1, 0]</tspan><tspan x="0" dy="10.7">class = <tspan class="t">⊞⊞⊞⊞</tspan></tspan></text></g>
<g id="n105" class="nd" transform="translate(1288,701.4)"><rect x="-50.5" y="-28.5" width="101" height="57" rx="7" fill="#3ea0e6"/><text y="-17.6"><tspan class="t">⊞⊞⊞⊞⊞</tspan> &lt;= 89.5<tspan x="0" dy="10.7">gini = 0.051</tspan><tspan x="0" dy="10.7">samples = 38</tspan><tspan x="0" dy="10.7">value = [1, 37]</tspan><tspan x="0" dy="10.7">class = <tspan class="t">⊞⊞⊞⊞</tspan></tspan></text></g>
<g id="n114" class="nd" transform="translate(1442,701.4)"><rect class="o" x="-43.5" y="-23.5" width="87" height="47" rx="7"/><text y="-12.3">gini = 0.0<tspan x="0" dy="10.7">samples = 1</tspan><tspan x="0" dy="10.7">value = [1, 0]</tspan><tspan x="0" dy="10.7">class = <tspan class="t">⊞⊞⊞⊞</tspan></tspan></text></g>
<g id="n115" class="nd" transform="translate(1543,701.4)"><rect class="b" x="-43.5" y="-23.5" width="87" height="47" rx="7"/><text y="-12.3">gini = 0.0<tspan x="0" dy="10.7">samples = 5</tspan><tspan x="0" dy="10.7">value = [0, 5]</tspan><tspan x="0" dy="10.7">class = <tspan class="t">⊞⊞⊞⊞</tspan></tspan></text></g>
<g id="n28" class="nd" transform="translate(75,783.2)"><rect class="o" x="-43.5" y="-23.5" width="87" height="47" rx="7"/><text y="-12.3">gini = 0.0<tspan x="0" dy="10.7">samples = 45</tspan><tspan x="0" dy="10.7">value = [45, 0]</tspan><tspan x="0" dy="10.7">class = <tspan class="t">⊞⊞⊞⊞</tspan></tspan></text></g>
<g id="n29" class="nd" transform="translate(175,783.2)"><rect x="-43.5" y="-28.5" width="87" height="57" rx="7" fill="#e88f4f"/><text y="-17.6"><tspan class="t">⊞⊞</tspan> &lt;= 0.992<tspan x="0" dy="10.7">gini = 0.18</tspan><tspan x="0" dy="10.7">samples = 10</tspan><tspan x="0" dy="10.7">value = [9, 1]</tspan><tspan x="0" dy="10.7">class = <tspan class="t">⊞⊞⊞⊞</tspan></tspan></text></g>
<g id="n33" class="nd" transform="translate(275,783.2)"><rect class="o" x="-43.5" y="-23.5" width="87" height="47" rx="7"/><text y="-12.3">gini = 0.0<tspan x="0" dy="10.7">samples = 1</tspan><tspan x="0" dy="10.7">value = [1, 0]</tspan><tspan x="0" dy="10.7">class = <tspan class="t">⊞⊞⊞⊞</tspan></tspan></text></g>
<g id="n34" class="nd" transform="translate(375,783.2)"><rect class="b" x="-43.5" y="-23.5" width="87" height="47" rx="7"/><text y="-12.3">gini = 0.0<tspan x="0" dy="10.7">samples = 1</tspan><tspan x="0" dy="10.7">value = [0, 1]</tspan><tspan x="0" dy="10.7">class = <tspan class="t">⊞⊞⊞⊞</tspan></tspan></text></g>
<g id="n41" class="nd" transform="translate(478,783.2)"><rect x="-47.5" y="-28.5" width="95" height="57" rx="7" fill="#e5833c"/><text y="-17.6"><tspan class="t">⊞⊞⊞⊞</tspan> &lt;= 0.435<tspan x="0" dy="10.7">gini = 0.034</tspan><tspan x="0" dy="10.7">samples = 115</tspan><tspan x="0" dy="10.7">value = [113, 2]</tspan><tspan x="0" dy="10.7">class = <tspan class="t">⊞⊞⊞⊞</tspan></tspan></text></g>
<g id="n46" class="nd" transform="translate(581,783.2)"><rect class="b" x="-43.5" y="-23.5" width="87" height="47" rx="7"/><text y="-12.3">gini = 0.0<tspan x="0" dy="10.7">samples = 1</tspan><tspan x="0" dy="10.7">value = [0, 1]</tspan><tspan x="0" dy="10.7">class = <tspan class="t">⊞⊞⊞⊞</tspan></tspan></text></g>
<g id="n48" class="nd" transform="translate(681,783.2)"><rect class="o" x="-43.5" y="-23.5" width="87" height="47" rx="7"/><text y="-12.3">gini = 0.0<tspan x="0" dy="10.7">samples = 1</tspan><tspan x="0" dy="10.7">value = [1, 0]</tspan><tspan x="0" dy="10.7">class = <tspan class="t">⊞⊞⊞⊞</tspan></tspan></text></g>
<g id="n49" class="nd" transform="translate(781,783.2)"><rect class="b" x="-43.5" y="-23.5" width="87" height="47" rx="7"/><text y="-12.3">gini = 0.0<tspan x="0" dy="10.7">samples = 5</tspan><tspan x="0" dy="10.7">value = [0, 5]</tspan><tspan x="0" dy="10.7">class = <tspan class="t">⊞⊞⊞⊞</tspan></tspan></text></g>
<g id="n52" class="nd" transform="translate(881,783.2)"><rect class="o" x="-43.5" y="-23.5" width="87" height="47" rx="7"/><text y="-12.3">gini = 0.0<tspan x="0" dy="10.7">samples = 1</tspan><tspan x="0" dy="10.7">value = [1, 0]</tspan><tspan x="0" dy="10.7">class = <tspan class="t">⊞⊞⊞⊞</tspan></tspan></text></g>
<g id="n53" class="nd" transform="translate(981,783.2)"><rect class="w" x="-43.5" y="-23.5" width="87" height="47" rx="7"/><text y="-12.3">gini = 0.5<tspan x="0" dy="10.7">samples = 2</tspan><tspan x="0" dy="10.7">value = [1, 1]</tspan><tspan x="0" dy="10.7">class = <tspan class="t">⊞⊞⊞⊞</tspan></tspan></text></g>
<g id="n55" class="nd" transform="translate(1081,783.2)"><rect x="-44" y="-28.5" width="88" height="57" rx="7" fill="#e58139"/><text y="-17.6"><tspan class="t">⊞⊞⊞</tspan> &lt;= 0.755<tspan x="0" dy="10.7">gini = 0.004</tspan><tspan x="0" dy="10.7">samples = 3028</tspan><tspan x="0" dy="10.7">value = [3022, 6]</tspan><tspan x="0" dy="10.7">class = <tspan class="t">⊞⊞⊞⊞</tspan></tspan></text></g>
<g id="n86" class="nd" transform="translate(1184,783.2)"><rect x="-45" y="-28.5" width="90" height="57" rx="7" fill="#eca06a"/><text y="-17.6"><tspan class="t">⊞⊞⊞⊞</tspan> &lt;= 7.05<tspan x="0" dy="10.7">gini = 0.32</tspan><tspan x="0" dy="10.7">samples = 5</tspan><tspan x="0" dy="10.7">value = [4, 1]</tspan><tspan x="0" dy="10.7">class = <tspan class="t">⊞⊞⊞⊞</tspan></tspan></text></g>
<g id="n106" class="nd" transform="translate(1287,783.2)"><rect class="b" x="-43.5" y="-23.5" width="87" height="47" rx="7"/><text y="-12.3">gini = 0.0<tspan x="0" dy="10.7">samples = 37</tspan><tspan x="0" dy="10.7">value = [0, 37]</tspan><tspan x="0" dy="10.7">class = <tspan class="t">⊞⊞⊞⊞</tspan></tspan></text></g>
<g id="n107" class="nd" transform="translate(1387,783.2)"><rect class="o" x="-43.5" y="-23.5" width="87" height="47" rx="7"/><text y="-12.3">gini = 0.0<tspan x="0" dy="10.7">samples = 1</tspan><tspan x="0" dy="10.7">value = [1, 0]</tspan><tspan x="0" dy="10.7">class = <tspan class="t">⊞⊞⊞⊞</tspan></tspan></text></g>
<g id="n30" class="nd" transform="translate(125,865)"><rect class="b" x="-43.5" y="-23.5" width="87" height="47" rx="7"/><text y="-12.3">gini = 0.0<tspan x="0" dy="10.7">samples = 1</tspan><tspan x="0" dy="10.7">value = [0, 1]</tspan><tspan x="0" dy="10.7">class = <tspan class="t">⊞⊞⊞⊞</tspan></tspan></text></g>
<g id="n31" class="nd" transform="translate(225,865)"><rect class="o" x="-43.5" y="-23.5" width="87" height="47" rx="7"/><text y="-12.3">gini = 0.0<tspan x="0" dy="10.7">samples = 9</tspan><tspan x="0" dy="10.7">value = [9, 0]</tspan><tspan x="0" dy="10.7">class = <tspan class="t">⊞⊞⊞⊞</tspan></tspan></text></g>
<g id="n42" class="nd" transform="translate(387,865)"><rect class="o" x="-43.5" y="-23.5" width="87" height="47" rx="7"/><text y="-12.3">gini = 0.0<tspan x="0" dy="10.7">samples = 105</tspan><tspan x="0" dy="10.7">value = [105, 0]</tspan><tspan x="0" dy="10.7">class = <tspan class="t">⊞⊞⊞⊞</tspan></tspan></text></g>
<g id="n43" class="nd" transform="translate(487,865)"><rect x="-43" y="-28.5" width="86" height="57" rx="7" fill="#eca06a"/><text y="-17.6">pH &lt;= 3.37<tspan x="0" dy="10.7">gini = 0.32</tspan><tspan x="0" dy="10.7">samples = 10</tspan><tspan x="0" dy="10.7">value = [8, 2]</tspan><tspan x="0" dy="10.7">class = <tspan class="t">⊞⊞⊞⊞</tspan></tspan></text></g>
<g id="n56" class="nd" transform="translate(885,865)"><rect x="-44" y="-28.5" width="88" height="57" rx="7" fill="#e58139"/><text y="-17.6">pH &lt;= 2.895<tspan x="0" dy="10.7">gini = 0.002</tspan><tspan x="0" dy="10.7">samples = 2930</tspan><tspan x="0" dy="10.7">value = [2927, 3]</tspan><tspan x="0" dy="10.7">class = <tspan class="t">⊞⊞⊞⊞</tspan></tspan></text></g>
<g id="n75" class="nd" transform="translate(1081,865)"><rect x="-47" y="-28.5" width="94" height="57" rx="7" fill="#e6853f"/><text y="-17.6"><tspan class="t">⊞⊞⊞⊞</tspan> &lt;= 0.505<tspan x="0" dy="10.7">gini = 0.059</tspan><tspan x="0" dy="10.7">samples = 98</tspan><tspan x="0" dy="10.7">value = [95, 3]</tspan><tspan x="0" dy="10.7">class = <tspan class="t">⊞⊞⊞⊞</tspan></tspan></text></g>
<g id="n87" class="nd" transform="translate(1184,865)"><rect class="o" x="-43.5" y="-23.5" width="87" height="47" rx="7"/><text y="-12.3">gini = 0.0<tspan x="0" dy="10.7">samples = 4</tspan><tspan x="0" dy="10.7">value = [4, 0]</tspan><tspan x="0" dy="10.7">class = <tspan class="t">⊞⊞⊞⊞</tspan></tspan></text></g>
<g id="n88" class="nd" transform="translate(1284,865)"><rect class="b" x="-43.5" y="-23.5" width="87" height="47" rx="7"/><text y="-12.3">gini = 0.0<tspan x="0" dy="10.7">samples = 1</tspan><tspan x="0" dy="10.7">value = [0, 1]</tspan><tspan x="0" dy="10.7">class = <tspan class="t">⊞⊞⊞⊞</tspan></tspan></text></g>
<g id="n44" class="nd" transform="translate(415,946.8)"><rect class="o" x="-43.5" y="-23.5" width="87" height="47" rx="7"/><text y="-12.3">gini = 0.0<tspan x="0" dy="10.7">samples = 8</tspan><tspan x="0" dy="10.7">value = [8, 0]</tspan><tspan x="0" dy="10.7">class = <tspan class="t">⊞⊞⊞⊞</tspan></tspan></text></g>
<g id="n45" class="nd" transform="translate(515,946.8)"><rect class="b" x="-43.5" y="-23.5" width="87" height="47" rx="7"/><text y="-12.3">gini = 0.0<tspan x="0" dy="10.7">samples = 2</tspan><tspan x="0" dy="10.7">value = [0, 2]</tspan><tspan x="0" dy="10.7">class = <tspan class="t">⊞⊞⊞⊞</tspan></tspan></text></g>
<g id="n57" class="nd" transform="translate(632,946.8)"><rect x="-43.5" y="-28.5" width="87" height="57" rx="7" fill="#e68640"/><text y="-17.6"><tspan class="t">⊞⊞</tspan> &lt;= 12.35<tspan x="0" dy="10.7">gini = 0.069</tspan><tspan x="0" dy="10.7">samples = 28</tspan><tspan x="0" dy="10.7">value = [27, 1]</tspan><tspan x="0" dy="10.7">class = <tspan class="t">⊞⊞⊞⊞</tspan></tspan></text></g>
<g id="n62" class="nd" transform="translate(885,946.8)"><rect x="-43.5" y="-28.5" width="87" height="57" rx="7" fill="#e58139"/><text y="-17.6"><tspan class="t">⊞⊞⊞</tspan> &lt;= 0.235<tspan x="0" dy="10.7">gini = 0.001</tspan><tspan x="0" dy="10.7">samples = 2902</tspan><tspan x="0" dy="10.7">value = [2900, 2]</tspan><tspan x="0" dy="10.7">class = <tspan class="t">⊞⊞⊞⊞</tspan></tspan></text></g>
<g id="n76" class="nd" transform="translate(1081,946.8)"><rect x="-43" y="-28.5" width="86" height="57" rx="7" fill="#e6843d"/><text y="-17.6"><tspan class="t">⊞⊞⊞</tspan> &lt;= 0.058<tspan x="0" dy="10.7">gini = 0.04</tspan><tspan x="0" dy="10.7">samples = 97</tspan><tspan x="0" dy="10.7">value = [95, 2]</tspan><tspan x="0" dy="10.7">class = <tspan class="t">⊞⊞⊞⊞</tspan></tspan></text></g>
<g id="n85" class="nd" transform="translate(1181,946.8)"><rect class="b" x="-43.5" y="-23.5" width="87" height="47" rx="7"/><text y="-12.3">gini = 0.0<tspan x="0" dy="10.7">samples = 1</tspan><tspan x="0" dy="10.7">value = [0, 1]</tspan><tspan x="0" dy="10.7">class = <tspan class="t">⊞⊞⊞⊞</tspan></tspan></text></g>
<g id="n58" class="nd" transform="translate(519,1028.6)"><rect class="o" x="-43.5" y="-23.5" width="87" height="47" rx="7"/><text y="-12.3">gini = 0.0<tspan x="0" dy="10.7">samples = 26</tspan><tspan x="0" dy="10.7">value = [26, 0]</tspan><tspan x="0" dy="10.7">class = <tspan class="t">⊞⊞⊞⊞</tspan></tspan></text></g>
<g id="n59" class="nd" transform="translate(632,1028.6)"><rect x="-57" y="-28.5" width="114" height="57" rx="7" fill="#ffffff"/><text y="-17.6"><tspan class="t">⊞⊞⊞⊞⊞⊞</tspan> &lt;= 31.0<tspan x="0" dy="10.7">gini = 0.5</tspan><tspan x="0" dy="10.7">samples = 2</tspan><tspan x="0" dy="10.7">value = [1, 1]</tspan><tspan x="0" dy="10.7">class = <tspan class="t">⊞⊞⊞⊞</tspan></tspan></text></g>
<g id="n63" class="nd" transform="translate(832,1028.6)"><rect x="-50.5" y="-28.5" width="101" height="57" rx="7" fill="#e5823a"/><text y="-17.6"><tspan class="t">⊞⊞⊞⊞⊞</tspan> &lt;= 92.0<tspan x="0" dy="10.7">gini = 0.012</tspan><tspan x="0" dy="10.7">samples = 331</tspan><tspan x="0" dy="10.7">value = [329, 2]</tspan><tspan x="0" dy="10.7">class = <tspan class="t">⊞⊞⊞⊞</tspan></tspan></text></g>
<g id="n74" class="nd" transform="translate(940,1028.6)"><rect class="o" x="-43.5" y="-23.5" width="87" height="47" rx="7"/><text y="-12.3">gini = 0.0<tspan x="0" dy="10.7">samples = 2571</tspan><tspan x="0" dy="10.7">value = [2571, 0]</tspan><tspan x="0" dy="10.7">class = <tspan class="t">⊞⊞⊞⊞</tspan></tspan></text></g>
<g id="n77" class="nd" transform="translate(1081,1028.6)"><rect x="-50" y="-28.5" width="100" height="57" rx="7" fill="#e5823b"/><text y="-17.6"><tspan class="t">⊞⊞⊞⊞⊞</tspan> &lt;= 79.5<tspan x="0" dy="10.7">gini = 0.021</tspan><tspan x="0" dy="10.7">samples = 95</tspan><tspan x="0" dy="10.7">value = [94, 1]</tspan><tspan x="0" dy="10.7">class = <tspan class="t">⊞⊞⊞⊞</tspan></tspan></text></g>
<g id="n82" class="nd" transform="translate(1262,1028.6)"><rect x="-44.5" y="-28.5" width="89" height="57" rx="7" fill="#ffffff"/><text y="-17.6"><tspan class="t">⊞⊞⊞⊞</tspan> &lt;= 0.33<tspan x="0" dy="10.7">gini = 0.5</tspan><tspan x="0" dy="10.7">samples = 2</tspan><tspan x="0" dy="10.7">value = [1, 1]</tspan><tspan x="0" dy="10.7">class = <tspan class="t">⊞⊞⊞⊞</tspan></tspan></text></g>
<g id="n60" class="nd" transform="translate(532,1110.4)"><rect class="o" x="-43.5" y="-23.5" width="87" height="47" rx="7"/><text y="-12.3">gini = 0.0<tspan x="0" dy="10.7">samples = 1</tspan><tspan x="0" dy="10.7">value = [1, 0]</tspan><tspan x="0" dy="10.7">class = <tspan class="t">⊞⊞⊞⊞</tspan></tspan></text></g>
<g id="n61" class="nd" transform="translate(632,1110.4)"><rect class="b" x="-43.5" y="-23.5" width="87" height="47" rx="7"/><text y="-12.3">gini = 0.0<tspan x="0" dy="10.7">samples = 1</tspan><tspan x="0" dy="10.7">value = [0, 1]</tspan><tspan x="0" dy="10.7">class = <tspan class="t">⊞⊞⊞⊞</tspan></tspan></text></g>
<g id="n64" class="nd" transform="translate(739,1110.4)"><rect x="-51" y="-28.5" width="102" height="57" rx="7" fill="#e78946"/><text y="-17.6"><tspan class="t">⊞⊞⊞⊞⊞</tspan> &lt;= 90.5<tspan x="0" dy="10.7">gini = 0.117</tspan><tspan x="0" dy="10.7">samples = 16</tspan><tspan x="0" dy="10.7">value = [15, 1]</tspan><tspan x="0" dy="10.7">class = <tspan class="t">⊞⊞⊞⊞</tspan></tspan></text></g>
<g id="n67" class="nd" transform="translate(851,1110.4)"><rect x="-47" y="-28.5" width="94" height="57" rx="7" fill="#e5813a"/><text y="-17.6"><tspan class="t">⊞⊞⊞⊞</tspan> &lt;= 0.195<tspan x="0" dy="10.7">gini = 0.006</tspan><tspan x="0" dy="10.7">samples = 315</tspan><tspan x="0" dy="10.7">value = [314, 1]</tspan><tspan x="0" dy="10.7">class = <tspan class="t">⊞⊞⊞⊞</tspan></tspan></text></g>
<g id="n78" class="nd" transform="translate(1063,1110.4)"><rect x="-43.5" y="-28.5" width="87" height="57" rx="7" fill="#eeab7b"/><text y="-17.6"><tspan class="t">⊞⊞⊞</tspan> &lt;= 0.265<tspan x="0" dy="10.7">gini = 0.375</tspan><tspan x="0" dy="10.7">samples = 4</tspan><tspan x="0" dy="10.7">value = [3, 1]</tspan><tspan x="0" dy="10.7">class = <tspan class="t">⊞⊞⊞⊞</tspan></tspan></text></g>
<g id="n81" class="nd" transform="translate(1163,1110.4)"><rect class="o" x="-43.5" y="-23.5" width="87" height="47" rx="7"/><text y="-12.3">gini = 0.0<tspan x="0" dy="10.7">samples = 91</tspan><tspan x="0" dy="10.7">value = [91, 0]</tspan><tspan x="0" dy="10.7">class = <tspan class="t">⊞⊞⊞⊞</tspan></tspan></text></g>
<g id="n83" class="nd" transform="translate(1262,1110.4)"><rect class="o" x="-43.5" y="-23.5" width="87" height="47" rx="7"/><text y="-12.3">gini = 0.0<tspan x="0" dy="10.7">samples = 1</tspan><tspan x="0" dy="10.7">value = [1, 0]</tspan><tspan x="0" dy="10.7">class = <tspan class="t">⊞⊞⊞⊞</tspan></tspan></text></g>
<g id="n84" class="nd" transform="translate(1363,1110.4)"><rect class="b" x="-43.5" y="-23.5" width="87" height="47" rx="7"/><text y="-12.3">gini = 0.0<tspan x="0" dy="10.7">samples = 1</tspan><tspan x="0" dy="10.7">value = [0, 1]</tspan><tspan x="0" dy="10.7">class = <tspan class="t">⊞⊞⊞⊞</tspan></tspan></text></g>
<g id="n65" class="nd" transform="translate(638,1192.2)"><rect class="o" x="-43.5" y="-23.5" width="87" height="47" rx="7"/><text y="-12.3">gini = 0.0<tspan x="0" dy="10.7">samples = 15</tspan><tspan x="0" dy="10.7">value = [15, 0]</tspan><tspan x="0" dy="10.7">class = <tspan class="t">⊞⊞⊞⊞</tspan></tspan></text></g>
<g id="n66" class="nd" transform="translate(738,1192.2)"><rect class="b" x="-43.5" y="-23.5" width="87" height="47" rx="7"/><text y="-12.3">gini = 0.0<tspan x="0" dy="10.7">samples = 1</tspan><tspan x="0" dy="10.7">value = [0, 1]</tspan><tspan x="0" dy="10.7">class = <tspan class="t">⊞⊞⊞⊞</tspan></tspan></text></g>
<g id="n68" class="nd" transform="translate(851,1192.2)"><rect x="-56.5" y="-28.5" width="113" height="57" rx="7" fill="#e68641"/><text y="-17.6"><tspan class="t">⊞⊞⊞⊞⊞⊞</tspan> &lt;= 52.0<tspan x="0" dy="10.7">gini = 0.071</tspan><tspan x="0" dy="10.7">samples = 27</tspan><tspan x="0" dy="10.7">value = [26, 1]</tspan><tspan x="0" dy="10.7">class = <tspan class="t">⊞⊞⊞⊞</tspan></tspan></text></g>
<g id="n73" class="nd" transform="translate(963,1192.2)"><rect class="o" x="-43.5" y="-23.5" width="87" height="47" rx="7"/><text y="-12.3">gini = 0.0<tspan x="0" dy="10.7">samples = 288</tspan><tspan x="0" dy="10.7">value = [288, 0]</tspan><tspan x="0" dy="10.7">class = <tspan class="t">⊞⊞⊞⊞</tspan></tspan></text></g>
<g id="n79" class="nd" transform="translate(1063,1192.2)"><rect class="b" x="-43.5" y="-23.5" width="87" height="47" rx="7"/><text y="-12.3">gini = 0.0<tspan x="0" dy="10.7">samples = 1</tspan><tspan x="0" dy="10.7">value = [0, 1]</tspan><tspan x="0" dy="10.7">class = <tspan class="t">⊞⊞⊞⊞</tspan></tspan></text></g>
<g id="n80" class="nd" transform="translate(1163,1192.2)"><rect class="o" x="-43.5" y="-23.5" width="87" height="47" rx="7"/><text y="-12.3">gini = 0.0<tspan x="0" dy="10.7">samples = 3</tspan><tspan x="0" dy="10.7">value = [3, 0]</tspan><tspan x="0" dy="10.7">class = <tspan class="t">⊞⊞⊞⊞</tspan></tspan></text></g>
<g id="n69" class="nd" transform="translate(796,1274)"><rect class="o" x="-43.5" y="-23.5" width="87" height="47" rx="7"/><text y="-12.3">gini = 0.0<tspan x="0" dy="10.7">samples = 23</tspan><tspan x="0" dy="10.7">value = [23, 0]</tspan><tspan x="0" dy="10.7">class = <tspan class="t">⊞⊞⊞⊞</tspan></tspan></text></g>
<g id="n70" class="nd" transform="translate(904,1274)"><rect x="-52.5" y="-28.5" width="105" height="57" rx="7" fill="#eeab7b"/><text y="-17.6"><tspan class="t">⊞⊞⊞⊞⊞</tspan> &lt;= 147.0<tspan x="0" dy="10.7">gini = 0.375</tspan><tspan x="0" dy="10.7">samples = 4</tspan><tspan x="0" dy="10.7">value = [3, 1]</tspan><tspan x="0" dy="10.7">class = <tspan class="t">⊞⊞⊞⊞</tspan></tspan></text></g>
<g id="n71" class="nd" transform="translate(855,1355.8)"><rect class="w" x="-43.5" y="-23.5" width="87" height="47" rx="7"/><text y="-12.3">gini = 0.5<tspan x="0" dy="10.7">samples = 2</tspan><tspan x="0" dy="10.7">value = [1, 1]</tspan><tspan x="0" dy="10.7">class = <tspan class="t">⊞⊞⊞⊞</tspan></tspan></text></g>
<g id="n72" class="nd" transform="translate(955,1355.8)"><rect class="o" x="-43.5" y="-23.5" width="87" height="47" rx="7"/><text y="-12.3">gini = 0.0<tspan x="0" dy="10.7">samples = 2</tspan><tspan x="0" dy="10.7">value = [2, 0]</tspan><tspan x="0" dy="10.7">class = <tspan class="t">⊞⊞⊞⊞</tspan></tspan></text></g>
</g>
<g id="cursor" transform="translate(2026,1196)"><path d="M0,0 L0,27 L6.5,21 L11,31 L15,29 L10.5,19.5 L19,19.5 Z" fill="#fff" stroke="#000" stroke-width="1.2" stroke-linejoin="round"/></g>
</svg>
